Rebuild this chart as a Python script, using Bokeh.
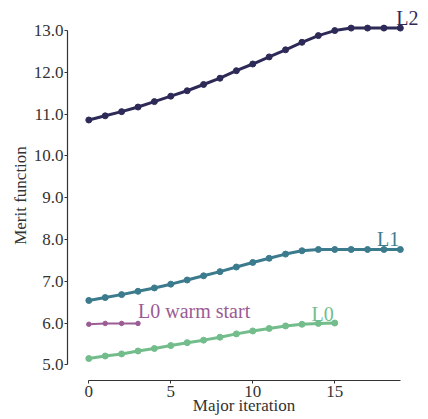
from bokeh.plotting import figure
from bokeh.models import Range1d, FixedTicker, NumeralTickFormatter, ColumnDataSource
from bokeh.embed import file_html
from bokeh.resources import INLINE
from bokeh.core.properties import value

# ---- data ----
iters_l2 = list(range(20))
merit_l2 = [10.86, 10.96, 11.06, 11.17, 11.30, 11.43, 11.56, 11.71, 11.86, 12.04,
            12.20, 12.37, 12.54, 12.72, 12.88, 13.00, 13.06, 13.06, 13.06, 13.06]
iters_l1 = list(range(20))
merit_l1 = [6.54, 6.61, 6.68, 6.76, 6.84, 6.93, 7.03, 7.13, 7.23, 7.34,
            7.45, 7.55, 7.65, 7.73, 7.76, 7.76, 7.76, 7.76, 7.76, 7.76]
iters_l0 = list(range(16))
merit_l0 = [5.15, 5.21, 5.26, 5.33, 5.39, 5.46, 5.53, 5.59, 5.66, 5.74,
            5.81, 5.87, 5.93, 5.97, 5.99, 6.00]
iters_warm = [0, 1, 2, 3]
merit_warm = [5.97, 5.99, 5.99, 5.99]

series_names = ["L2", "L1", "L0", "L0 warm start"]
x_ticks = [0, 5, 10, 15]
y_ticks = [5, 6, 7, 8, 9, 10, 11, 12, 13]
x_label = "Major iteration"
y_label = "Merit function"

colors = {"L2": "#2e2a58", "L1": "#3b7b8d", "L0": "#72bd8b", "L0 warm start": "#9b5b95"}
FONT = "Liberation Serif"
TXT = "#333333"

YLO, YHI = 4.624, 13.481
p = figure(width=428, height=419, output_backend="svg", toolbar_location=None,
           x_range=Range1d(-1.30, 20.23), y_range=Range1d(YLO, YHI),
           min_border_left=67, min_border_right=8, min_border_top=10, min_border_bottom=39)
p.outline_line_color = None
p.xgrid.visible = False
p.ygrid.visible = False
p.background_fill_color = "white"
p.border_fill_color = "white"

data = [
    ("L2", iters_l2, merit_l2, 3, 6),
    ("L1", iters_l1, merit_l1, 3, 6),
    ("L0", iters_l0, merit_l0, 3, 6),
    ("L0 warm start", iters_warm, merit_warm, 2, 4.5),
]
for name, xs, ys, lw, ms in data:
    src = ColumnDataSource(dict(x=xs, y=ys))
    p.line("x", "y", source=src, line_color=colors[name], line_width=lw)
    p.scatter("x", "y", source=src, size=ms, fill_color=colors[name], line_color=colors[name])

# labels anchored at series points
label_specs = [
    ("L2", iters_l2[-1], merit_l2[-1], "left", -4, -10),
    ("L1", iters_l1[-1], merit_l1[-1], "right", -1, -10),
    ("L0", iters_l0[-1], merit_l0[-1], "right", -1, -9),
    ("L0 warm start", iters_warm[-1], merit_warm[-1], "left", 0, -12),
]
for name, lx, ly, align, xo, yo in label_specs:
    p.text(x=[lx], y=[ly], text=[name], text_color=colors[name], text_align=align,
           text_baseline="alphabetic", x_offset=xo, y_offset=yo,
           text_font=value(FONT), text_font_size="20px")

for ax in (p.xaxis[0], p.yaxis[0]):
    ax.axis_line_color = TXT
    ax.axis_line_width = 1.2
    ax.major_tick_line_color = TXT
    ax.major_tick_in = 0
    ax.major_tick_out = 3
    ax.minor_tick_line_color = None
    ax.major_label_text_font = FONT
    ax.major_label_text_font_size = "17px"
    ax.major_label_text_color = TXT
    ax.axis_label_text_font = FONT
    ax.axis_label_text_font_size = "17px"
    ax.axis_label_text_font_style = "normal"
    ax.axis_label_text_color = TXT

p.xaxis.ticker = FixedTicker(ticks=x_ticks)
p.yaxis.ticker = FixedTicker(ticks=y_ticks)
p.yaxis.formatter = NumeralTickFormatter(format="0.0")
p.xaxis.bounds = (0, 19)
p.yaxis.bounds = (5, 13)
p.yaxis.axis_label = y_label
p.xaxis.axis_label = x_label
p.xaxis.major_label_text_line_height = 1.0
p.xaxis.axis_label_text_line_height = 1.0
p.xaxis.major_label_standoff = 2
p.xaxis.axis_label_standoff = -4
p.yaxis.major_label_standoff = 1
p.yaxis.axis_label_standoff = 1

open("out.html", "w").write(file_html(p, INLINE))
